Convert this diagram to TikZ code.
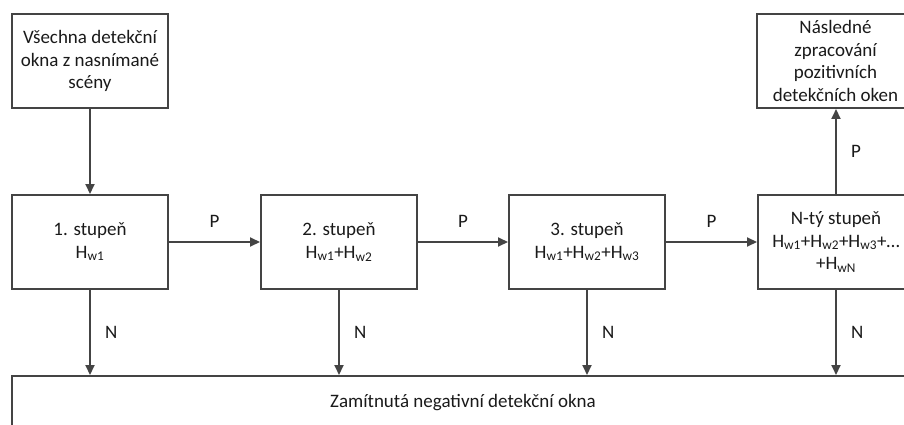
\documentclass[tikz,border=0pt]{standalone}
\usepackage{fontspec}
\setmainfont{Carlito}
\usetikzlibrary{arrows.meta}
\definecolor{edge}{HTML}{444444}
\definecolor{ink}{HTML}{1A1A1A}
\tikzset{
  box/.style={draw=edge, line width=2pt, fill=white, text=ink, align=center,
    inner sep=0pt, minimum width=156pt, minimum height=94pt,
    font=\fontsize{19}{22.5}\selectfont},
  flow/.style={draw=edge, line width=2pt,
    -{Triangle[length=10pt,width=9pt]}},
  lbl/.style={text=ink, font=\fontsize{19}{22}\selectfont, inner sep=0pt}
}
\begin{document}
\begin{tikzpicture}[x=1pt,y=-1pt]
  \useasboundingbox (0,0) rectangle (904,425);
  \clip (0,0) rectangle (904,425);
  \fill[white] (0,0) rectangle (904,425);
  % source and sink boxes
  \node[box] (src)  at (90,61)  {Všechna detekční\\okna z nasnímané\\scény};
  \node[box, minimum width=157pt] (post) at (835.5,61) {Následné\\zpracování\\pozitivních\\detekčních oken};
  % cascade stages
  \node[box] (s1) at (90,242)  {1. stupeň\\H\textsubscript{w1}};
  \node[box] (s2) at (339,242) {2. stupeň\\H\textsubscript{w1}+H\textsubscript{w2}};
  \node[box] (s3) at (587,242) {3. stupeň\\H\textsubscript{w1}+H\textsubscript{w2}+H\textsubscript{w3}};
  \node[box] (sn) at (836,242) {N-tý stupeň\\H\textsubscript{w1}+H\textsubscript{w2}+H\textsubscript{w3}+\dots\\+H\textsubscript{wN}};
  % rejected windows
  \node[box, minimum width=902pt, minimum height=54pt] (rej) at (463,403) {Zamítnutá negativní detekční okna};
  % connectors
  \draw[flow] (src) -- (s1);
  \draw[flow] (s1) -- node[lbl, above=14pt] {P} (s2);
  \draw[flow] (s2) -- node[lbl, above=14pt] {P} (s3);
  \draw[flow] (s3) -- node[lbl, above=14pt] {P} (sn);
  \draw[flow] (sn) -- node[lbl, right=14pt] {P} (sn |- post.south);
  \foreach \s in {s1,s2,s3,sn}
    \draw[flow] (\s) -- node[lbl, right=14pt] {N} (\s |- rej.north);
\end{tikzpicture}
\end{document}
